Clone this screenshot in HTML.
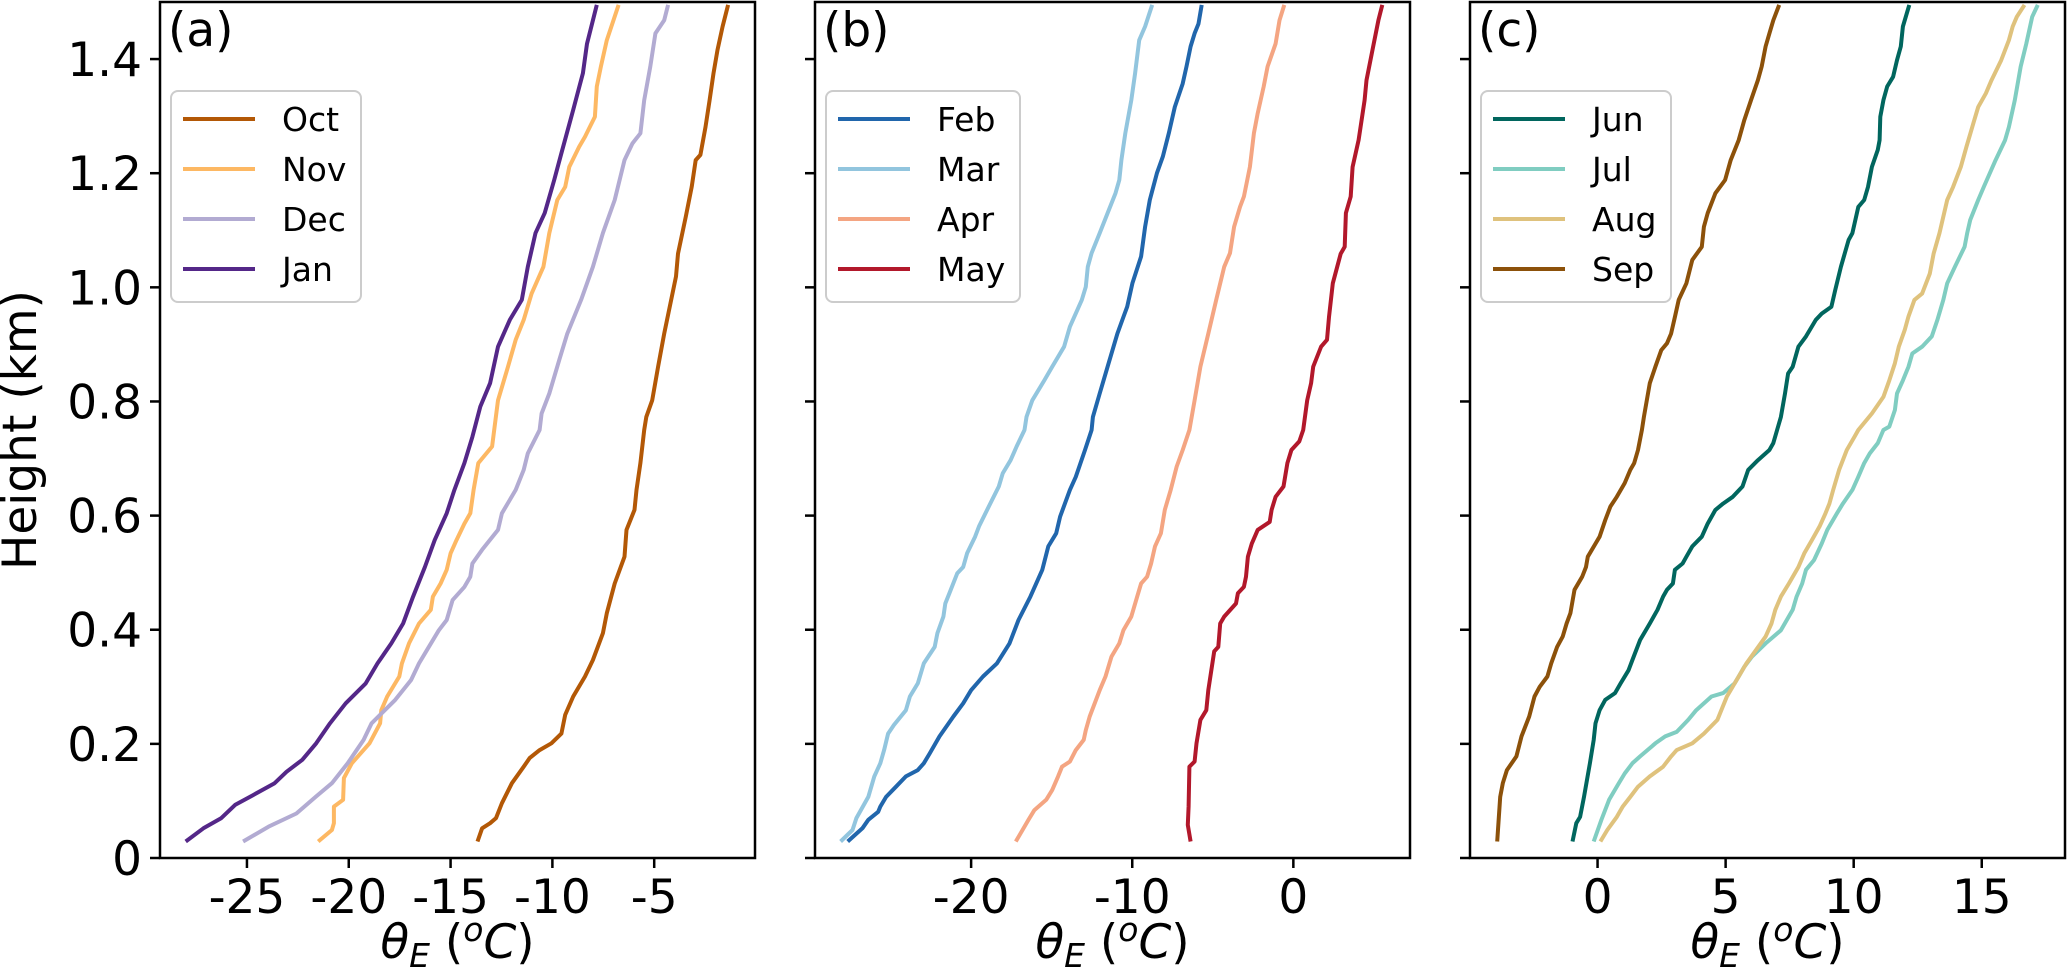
<!DOCTYPE html>
<html>
<head>
<meta charset="utf-8">
<style>
html,body{margin:0;padding:0;background:#fff;}
svg{display:block;font-family:"DejaVu Sans","Liberation Sans",sans-serif;}
</style>
</head>
<body>
<svg id="fig" width="2067" height="977" viewBox="0 0 2067 977" xmlns="http://www.w3.org/2000/svg">
<rect x="0" y="0" width="2067" height="977" fill="#fff"/>
</svg>
<script>
// ---------------- data (height km, theta_E degC) ----------------
const janH=[.029,.052,.070,.093,.110,.131,.151,.172,.201,.236,.271,.306,.341,.376,.411,.458,.510,.557,.604,.645,.692,.738,.791,.832,.896,.943,.978,1.036,1.095,1.130,1.188,1.235,1.311,1.375,1.427,1.495];
const janT=[-28.01,-27.14,-26.26,-25.58,-24.71,-23.64,-23.06,-22.28,-21.60,-20.92,-20.15,-19.17,-18.59,-17.91,-17.33,-16.84,-16.26,-15.78,-15.19,-14.81,-14.32,-13.93,-13.54,-13.06,-12.67,-12.09,-11.50,-11.21,-10.83,-10.38,-9.91,-9.56,-8.98,-8.50,-8.30,-7.82];
const novH=[.029,.049,.061,.090,.102,.140,.166,.201,.236,.259,.283,.318,.341,.376,.411,.435,.458,.481,.505,.534,.557,.586,.604,.645,.692,.721,.750,.802,.861,.908,.943,.989,1.036,1.095,1.153,1.176,1.211,1.246,1.264,1.299,1.352,1.387,1.433,1.495];
const novT=[-21.50,-20.83,-20.73,-20.73,-20.28,-20.24,-19.85,-18.98,-18.46,-18.40,-18.11,-17.52,-17.39,-17.04,-16.55,-15.97,-15.87,-15.49,-15.19,-15.00,-14.71,-14.32,-14.03,-13.87,-13.64,-12.96,-12.86,-12.67,-12.18,-11.80,-11.41,-11.02,-10.44,-10.15,-9.76,-9.37,-9.17,-8.69,-8.40,-7.91,-7.82,-7.62,-7.33,-6.75];
const decH=[.029,.055,.078,.108,.131,.166,.207,.236,.277,.312,.341,.364,.399,.417,.452,.475,.493,.516,.540,.575,.604,.645,.680,.709,.750,.779,.814,.873,.919,.978,1.036,1.095,1.153,1.223,1.252,1.270,1.328,1.387,1.445,1.468,1.495];
const decT=[-25.19,-23.93,-22.57,-21.60,-20.83,-20.05,-19.27,-18.88,-17.72,-16.94,-16.55,-16.17,-15.58,-15.19,-14.90,-14.32,-14.03,-13.93,-13.45,-12.67,-12.48,-11.80,-11.41,-11.21,-10.63,-10.53,-10.15,-9.66,-9.27,-8.59,-8.01,-7.52,-6.94,-6.46,-6.07,-5.68,-5.49,-5.19,-4.94,-4.51,-4.32];
const octH=[.029,.052,.061,.070,.096,.131,.160,.175,.189,.201,.218,.251,.283,.318,.347,.394,.429,.481,.528,.575,.610,.645,.692,.750,.773,.802,.861,.919,1.019,1.059,1.124,1.176,1.223,1.232,1.281,1.328,1.375,1.416,1.457,1.495];
const octT=[-13.68,-13.45,-13.06,-12.77,-12.48,-11.99,-11.41,-11.12,-10.63,-10.05,-9.56,-9.37,-8.98,-8.40,-8.01,-7.52,-7.33,-6.94,-6.46,-6.36,-5.97,-5.87,-5.68,-5.49,-5.39,-5.10,-4.81,-4.51,-3.93,-3.83,-3.45,-3.16,-2.96,-2.73,-2.48,-2.28,-2.09,-1.89,-1.64,-1.37];

const febH=[.029,.052,.067,.081,.090,.107,.125,.143,.154,.166,.183,.213,.248,.271,.294,.318,.341,.376,.417,.458,.505,.546,.569,.598,.645,.668,.715,.750,.773,.814,.861,.919,.948,.966,1.007,1.054,1.106,1.153,1.200,1.229,1.270,1.316,1.357,1.387,1.422,1.445,1.462,1.495];
const febT=[-27.66,-26.75,-26.38,-25.77,-25.64,-25.28,-24.66,-24.05,-23.31,-22.94,-22.58,-21.96,-21.10,-20.49,-20.00,-19.26,-18.40,-17.62,-17.06,-16.32,-15.58,-15.21,-14.72,-14.48,-13.87,-13.50,-12.93,-12.52,-12.44,-12.02,-11.53,-10.92,-10.55,-10.31,-9.99,-9.45,-9.20,-8.91,-8.47,-8.10,-7.73,-7.36,-6.87,-6.63,-6.38,-6.13,-5.89,-5.69];
const marH=[.029,.049,.070,.107,.143,.166,.189,.218,.233,.259,.283,.306,.341,.370,.394,.423,.446,.464,.499,.510,.534,.563,.581,.616,.651,.674,.697,.721,.750,.773,.802,.837,.861,.896,.931,.978,1.001,1.036,1.060,1.095,1.130,1.165,1.188,1.223,1.270,1.328,1.375,1.433,1.457,1.495];
const marT=[-28.10,-27.36,-27.12,-26.38,-26.01,-25.64,-25.40,-25.15,-24.79,-24.05,-23.80,-23.31,-22.94,-22.26,-22.09,-21.72,-21.60,-21.35,-20.86,-20.49,-20.25,-19.75,-19.51,-18.90,-18.28,-18.04,-17.55,-17.18,-16.69,-16.56,-16.20,-15.46,-14.97,-14.23,-13.87,-13.13,-12.88,-12.76,-12.52,-12.02,-11.53,-11.04,-10.80,-10.67,-10.43,-10.06,-9.82,-9.57,-9.20,-8.76];
const aprH=[.029,.067,.084,.102,.119,.143,.160,.169,.189,.207,.224,.248,.294,.318,.353,.376,.399,.423,.458,.481,.493,.516,.546,.569,.610,.645,.686,.715,.750,.802,.861,.919,.978,1.036,1.060,1.106,1.141,1.159,1.211,1.270,1.305,1.352,1.387,1.427,1.468,1.495];
const aprT=[-17.23,-16.44,-16.07,-15.34,-14.97,-14.60,-14.36,-13.87,-13.50,-13.01,-12.88,-12.64,-12.02,-11.66,-11.29,-10.80,-10.55,-10.06,-9.69,-9.45,-9.08,-8.83,-8.59,-8.22,-7.98,-7.61,-7.24,-6.87,-6.45,-6.13,-5.77,-5.28,-4.79,-4.29,-3.93,-3.68,-3.31,-3.07,-2.70,-2.45,-2.21,-1.84,-1.60,-1.10,-0.86,-0.56];
const mayH=[.029,.058,.090,.160,.169,.201,.242,.259,.294,.362,.370,.411,.423,.446,.464,.475,.493,.528,.551,.575,.589,.610,.633,.651,.692,.715,.730,.750,.802,.832,.861,.896,.908,.948,1.007,1.059,1.071,1.130,1.159,1.211,1.258,1.328,1.363,1.416,1.468,1.495];
const mayT=[-6.38,-6.55,-6.50,-6.45,-6.13,-6.01,-5.77,-5.40,-5.28,-4.91,-4.66,-4.54,-4.29,-3.56,-3.44,-3.07,-2.94,-2.82,-2.58,-2.21,-1.47,-1.35,-1.10,-0.61,-0.37,-0.12,0.37,0.61,0.86,1.10,1.23,1.72,2.09,2.21,2.45,2.94,3.19,3.26,3.56,3.68,4.05,4.42,4.54,4.91,5.28,5.52];

const junH=[.029,.061,.072,.107,.166,.207,.236,.259,.277,.289,.306,.329,.347,.382,.411,.435,.458,.470,.481,.505,.516,.528,.546,.563,.586,.610,.621,.633,.651,.680,.697,.715,.727,.750,.773,.814,.849,.861,.896,.914,.943,.954,.966,.995,1.036,1.083,1.095,1.141,1.153,1.176,1.211,1.241,1.258,1.299,1.328,1.352,1.369,1.398,1.422,1.457,1.495];
const junT=[-0.98,-0.83,-0.68,-0.53,-0.30,-0.15,-0.08,0.08,0.30,0.68,0.90,1.21,1.36,1.66,2.04,2.34,2.56,2.71,2.94,3.02,3.32,3.47,3.70,4.07,4.30,4.60,4.90,5.28,5.66,5.88,6.26,6.71,6.86,7.01,7.16,7.32,7.44,7.62,7.84,8.14,8.52,8.75,9.13,9.28,9.50,9.80,9.95,10.18,10.41,10.56,10.71,10.94,11.01,11.04,11.16,11.31,11.54,11.69,11.84,11.92,12.17];
const julH=[.029,.067,.102,.131,.148,.166,.178,.201,.213,.221,.242,.259,.283,.289,.306,.318,.335,.353,.376,.399,.417,.435,.458,.481,.505,.522,.551,.575,.604,.621,.645,.668,.692,.709,.727,.750,.756,.785,.814,.837,.861,.884,.896,.914,.943,.978,1.007,1.036,1.071,1.095,1.118,1.153,1.176,1.223,1.258,1.281,1.328,1.387,1.427,1.474,1.495];
const julT=[-0.15,0.15,0.45,0.83,1.06,1.36,1.66,2.26,2.64,3.09,3.54,3.85,4.45,4.90,5.35,5.51,5.73,6.03,6.56,7.16,7.39,7.62,7.77,7.99,8.14,8.45,8.75,8.97,9.35,9.58,9.95,10.18,10.41,10.63,10.94,11.16,11.39,11.61,11.69,11.92,12.14,12.29,12.67,13.05,13.27,13.50,13.65,13.95,14.33,14.43,14.55,14.86,15.08,15.54,15.91,16.06,16.29,16.52,16.74,16.97,17.19];
const augH=[.029,.049,.072,.090,.107,.125,.143,.160,.178,.189,.201,.218,.242,.259,.283,.318,.341,.364,.388,.411,.435,.458,.481,.510,.534,.557,.581,.604,.621,.645,.680,.715,.738,.750,.779,.808,.837,.867,.896,.925,.949,.978,.989,1.024,1.059,1.095,1.153,1.176,1.211,1.246,1.293,1.316,1.340,1.363,1.398,1.433,1.457,1.474,1.495];
const augT=[0.11,0.38,0.75,0.98,1.28,1.58,2.04,2.56,2.87,3.09,3.70,4.15,4.68,4.83,5.05,5.51,5.81,6.18,6.56,6.79,6.94,7.16,7.47,7.84,8.07,8.37,8.67,8.90,9.05,9.20,9.43,9.73,10.03,10.18,10.71,11.16,11.39,11.61,11.76,11.99,12.14,12.37,12.67,12.97,13.12,13.35,13.65,13.88,14.18,14.40,14.71,14.86,15.16,15.38,15.76,16.06,16.21,16.37,16.67];
const sepH=[.029,.107,.131,.154,.178,.213,.248,.283,.300,.318,.341,.370,.388,.411,.429,.470,.493,.510,.528,.551,.563,.592,.616,.633,.657,.680,.692,.715,.750,.773,.832,.861,.890,.902,.919,.948,.978,1.007,1.048,1.071,1.106,1.130,1.165,1.188,1.223,1.258,1.293,1.328,1.363,1.387,1.422,1.445,1.468,1.495];
const sepT=[-3.92,-3.80,-3.70,-3.54,-3.17,-2.97,-2.67,-2.46,-2.26,-1.96,-1.81,-1.58,-1.36,-1.21,-1.06,-0.90,-0.60,-0.45,-0.38,-0.08,0.08,0.30,0.50,0.75,1.06,1.28,1.43,1.58,1.73,1.81,2.04,2.26,2.49,2.71,2.87,3.02,3.17,3.47,3.70,4.07,4.15,4.30,4.60,4.98,5.20,5.51,5.73,5.99,6.26,6.41,6.56,6.71,6.86,7.09];

const yTicks=[0,0.2,0.4,0.6,0.8,1.0,1.2,1.4];
const yTickLabels=["0","0.2","0.4","0.6","0.8","1.0","1.2","1.4"];
const xTicksA=[-25,-20,-15,-10,-5];
const xTicksB=[-20,-10,0];
const xTicksC=[0,5,10,15];
const monthsA=["Oct","Nov","Dec","Jan"];
const monthsB=["Feb","Mar","Apr","May"];
const monthsC=["Jun","Jul","Aug","Sep"];

// ---------------- layout ----------------
const NS="http://www.w3.org/2000/svg";
const svg=document.getElementById('fig');
const TOP=2, BOT=858, YMAX=1.5;
const panels=[
 {id:'a',left:160,right:755,xmin:-29.27,xmax:-0.05,ticks:xTicksA,months:monthsA,legW:190,
  series:[[octH,octT,'#b35806'],[novH,novT,'#fdb863'],[decH,decT,'#b2abd2'],[janH,janT,'#542788']]},
 {id:'b',left:815,right:1410,xmin:-29.69,xmax:7.24,ticks:xTicksB,months:monthsB,legW:194,
  series:[[febH,febT,'#2166ac'],[marH,marT,'#92c5de'],[aprH,aprT,'#f4a582'],[mayH,mayT,'#b2182b']]},
 {id:'c',left:1470,right:2065,xmin:-4.98,xmax:18.25,ticks:xTicksC,months:monthsC,legW:190,
  series:[[junH,junT,'#01665e'],[julH,julT,'#80cdc1'],[augH,augT,'#dfc27d'],[sepH,sepT,'#8c510a']]}
];
function el(tag,attrs,parent){const e=document.createElementNS(NS,tag);for(const k in attrs)e.setAttribute(k,attrs[k]);(parent||svg).appendChild(e);return e;}
function yScale(h){return BOT-(h/YMAX)*(BOT-TOP);}

panels.forEach((p,pi)=>{
  const xs=v=>p.left+(v-p.xmin)/(p.xmax-p.xmin)*(p.right-p.left);
  const g=el('g',{});
  
  
  // series
  p.series.forEach((s,si)=>{
    const H=s[0],T=s[1],n=Math.min(H.length,T.length);
    let d='';
    for(let i=0;i<n;i++){d+=(i?'L':'M')+xs(T[i]).toFixed(1)+' '+yScale(H[i]).toFixed(1);}
    const path=el('path',{d:d,fill:'none',stroke:s[2],'stroke-width':4,'stroke-linejoin':'round'},g);
    
    
  });
  // frame
  const fr=el('rect',{x:p.left,y:TOP,width:p.right-p.left,height:BOT-TOP,fill:'none',stroke:'#000','stroke-width':2.5},g);
  
  
  // y ticks
  yTicks.forEach((t,i)=>{
    const y=yScale(t);
    const tk=el('line',{x1:p.left-10,x2:p.left,y1:y,y2:y,stroke:'#000','stroke-width':2.5},g);
    
    
    if(pi===0){
      const lb=el('text',{x:p.left-18,y:y+17,'font-size':47,'text-anchor':'end',fill:'#000'},g);
      lb.textContent=yTickLabels[i];
      
      
    }
  });
  // x ticks
  p.ticks.forEach(t=>{
    const x=xs(t);
    const tk=el('line',{x1:x,x2:x,y1:BOT,y2:BOT+10,stroke:'#000','stroke-width':2.5},g);
    
    
    const lb=el('text',{x:x,y:913,'font-size':47,'text-anchor':'middle',fill:'#000'},g);
    lb.textContent=String(t);
    
    
  });
  // x label
  const xl=el('text',{x:(p.left+p.right)/2,y:958,'font-size':47,'text-anchor':'middle',fill:'#000'},g);
  
  
  xl.innerHTML='<tspan font-style="italic">θ</tspan><tspan font-style="italic" font-size="33" dy="9">E</tspan><tspan dy="-9"> (</tspan><tspan font-style="italic" font-size="33" dy="-17">o</tspan><tspan font-style="italic" dy="17">C</tspan><tspan>)</tspan>';
  // panel label
  const pl=el('text',{x:p.left+8,y:46,'font-size':47,fill:'#000'},g);
  pl.textContent='('+p.id+')';
  
  
  // legend
  const lg=el('g',{},g);
  
  
  el('rect',{x:p.left+11,y:91,width:p.legW,height:211,rx:7,ry:7,fill:'#fff','fill-opacity':0.8,stroke:'#cccccc','stroke-width':2},lg);
  p.series.forEach((s,si)=>{
    const ry=119+si*50;
    const e=el('g',{},lg);
    
    
    el('line',{x1:p.left+23,x2:p.left+95,y1:ry,y2:ry,stroke:s[2],'stroke-width':4},e);
    const tx=el('text',{x:p.left+122,y:ry+12,'font-size':33,fill:'#000'},e);
    tx.textContent=p.months[si];
  });
});
// y axis title
const yt=el('text',{x:0,y:0,'font-size':47,'text-anchor':'middle',fill:'#000',transform:'translate(36,430) rotate(-90)'});
yt.textContent='Height (km)';


</script>
</body>
</html>
